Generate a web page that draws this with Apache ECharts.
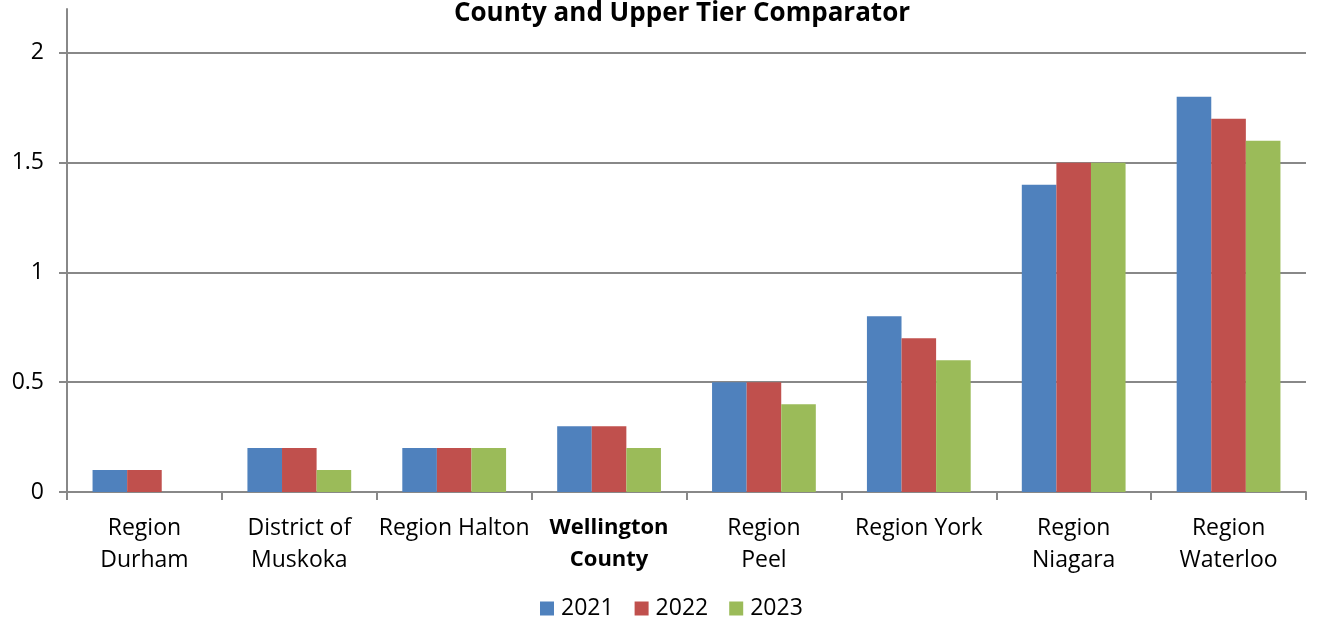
<!DOCTYPE html>
<html>
<head>
<meta charset="utf-8">
<script src="https://cdn.jsdelivr.net/npm/echarts@6/dist/echarts.min.js"></script>
<style>
html,body{margin:0;padding:0;background:#fff;}
#chart{width:1317px;height:621px;}
</style>
</head>
<body>
<div id="chart"></div>
<script>
const titleText = 'County and Upper Tier Comparator';
const categories = ['Region\nDurham', 'District of\nMuskoka', 'Region Halton', 'Wellington\nCounty', 'Region\nPeel', 'Region York', 'Region\nNiagara', 'Region\nWaterloo'];
const boldCategory = 'Wellington\nCounty';
const seriesNames = ['2021', '2022', '2023'];
const values2021 = [0.1, 0.2, 0.2, 0.3, 0.5, 0.8, 1.4, 1.8];
const values2022 = [0.1, 0.2, 0.2, 0.3, 0.5, 0.7, 1.5, 1.7];
const values2023 = [0, 0.1, 0.2, 0.2, 0.4, 0.6, 1.5, 1.6];
const yTicks = [0, 0.5, 1, 1.5, 2];
const yMax = 2.2;

const FONT = 'Open Sans';
const colors = ['#4F81BD', '#C0504D', '#9BBB59'];
const gridColor = '#888888';

const chart = echarts.init(document.getElementById('chart'), null, {renderer: 'canvas'});
const allVals = [values2021, values2022, values2023];
chart.setOption({
  animation: false,
  color: colors,
  title: {
    text: titleText,
    left: 682, textAlign: 'center', top: 1,
    padding: 0,
    textStyle: {fontFamily: FONT, fontWeight: 'bold', fontSize: 26, lineHeight: 26, color: '#000'}
  },
  legend: {
    bottom: 1, left: 540, padding: 0,
    itemWidth: 14, itemHeight: 14, itemGap: 21,
    icon: 'rect',
    textStyle: {fontFamily: FONT, fontSize: 23, color: '#000', padding: [0, 0, 0, 2]},
    data: seriesNames
  },
  grid: {left: 67, right: 11, top: 9, bottom: 129, containLabel: false},
  xAxis: {
    type: 'category',
    data: categories,
    axisLine: {lineStyle: {color: gridColor, width: 2}},
    axisTick: {show: true, length: 8, alignWithLabel: false, lineStyle: {color: gridColor, width: 2}},
    axisLabel: {
      interval: 0, margin: 20,
      fontFamily: FONT, fontSize: 23, color: '#000', lineHeight: 32,
      formatter: function (v) { return v === boldCategory ? '{b|' + v + '}' : v; },
      rich: {b: {fontFamily: FONT, fontSize: 22, fontWeight: 'bold', color: '#000', lineHeight: 32}}
    }
  },
  yAxis: {
    type: 'value', min: 0, max: yMax, interval: 0.5,
    axisLine: {show: true, lineStyle: {color: gridColor, width: 2}},
    axisTick: {show: true, length: 8, customValues: yTicks, lineStyle: {color: gridColor, width: 2}},
    axisLabel: {customValues: yTicks, margin: 23, fontFamily: FONT, fontSize: 23, color: '#000'},
    splitLine: {show: true, lineStyle: {color: [gridColor, gridColor, gridColor, gridColor, gridColor, 'rgba(0,0,0,0)'], width: 2}}
  },
  series: seriesNames.map((n, i) => ({
    name: n, type: 'bar', data: allVals[i],
    barGap: '0%', barCategoryGap: '33%',
    itemStyle: {color: colors[i]}
  }))
});
</script>
</body>
</html>
